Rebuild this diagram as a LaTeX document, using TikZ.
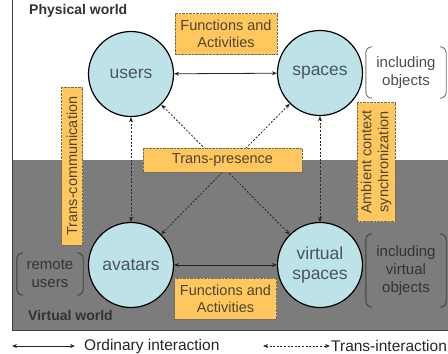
\documentclass[tikz,border=0pt]{standalone}
\usepackage{fontspec}
\setmainfont{Liberation Sans}
\usetikzlibrary{arrows.meta}
\definecolor{cyanfill}{HTML}{BDE3E8}
\definecolor{boxfill}{HTML}{FFC75E}
\definecolor{worldgray}{HTML}{7C7C7C}
\definecolor{inktext}{HTML}{4A5460}
\definecolor{boxtext}{HTML}{4E4630}
\tikzset{
  world/.style={circle, draw=black, line width=1.2pt, fill=cyanfill, minimum size=85pt, inner sep=0pt, font=\fontsize{17.5}{19.5}\selectfont, text=inktext, align=center},
  label box/.style={draw=boxtext!80, densely dotted, fill=boxfill, inner sep=0pt, font=\fontsize{14.5}{17}\selectfont, text=boxtext, align=center},
  ordinary/.style={{Stealth[length=5pt,width=4pt]}-{Stealth[length=5pt,width=4pt]}, line width=0.8pt, draw=black!85},
  trans/.style={ordinary, dash pattern=on 2pt off 1.6pt},
  aside/.style={font=\fontsize{15}{18}\selectfont, text=black!70, align=center, inner sep=0pt},
  paren/.style={draw=black!55, line width=0.9pt, rounded corners=6pt},
  world title/.style={font=\bfseries\fontsize{14}{16}\selectfont, text=black!80, inner sep=0pt},
  legend/.style={font=\fontsize{15.5}{18}\selectfont, text=black!85, inner sep=0pt},
}
\begin{document}
\begin{tikzpicture}[x=1pt, y=-1pt]
    \useasboundingbox (0,0) rectangle (448,354);
    % the two worlds
    \fill[worldgray] (12,160) rectangle (460,330);
    \draw[draw=black!75, line width=0.8pt] (12,-5) -- (12,330) -- (460,330);
    \node[world title, anchor=base west] (physical) at (29,14) {Physical world};
    \node[world title, anchor=base west] (virtual) at (28,320) {Virtual world};

    % actors and places
    \node[world] (users) at (131,74) {users};
    \node[world] (spaces) at (320,73) {spaces};
    \node[world] (avatars) at (131,265) {avatars};
    \node[world] (vspaces) at (320,265) {virtual\\spaces};

    % interactions
    \draw[ordinary] (users) -- (spaces);
    \draw[ordinary] (avatars) -- (vspaces);
    \draw[trans] (users) -- (avatars);
    \draw[trans] (spaces) -- (vspaces);
    \draw[trans] (users) -- (vspaces);
    \draw[trans] (spaces) -- (avatars);

    % labels on the interactions
    \node[label box, minimum width=102pt, minimum height=41pt] (funcTop) at (226,34) {Functions and\\Activities};
    \node[label box, minimum width=102pt, minimum height=41pt] (funcBot) at (225.5,298.5) {Functions and\\Activities};
    \node[label box, minimum width=159pt, minimum height=24pt] (transPres) at (222.5,160) {Trans-presence};
    \node[label box, rotate=90, minimum width=158pt, minimum height=21pt] (transComm) at (72,166) {Trans-communication};
    \node[label box, rotate=90, minimum width=119pt, minimum height=38pt] (ambient) at (376,162) {Ambient context\\synchronization};

    % side notes in brackets
    \node[aside, minimum width=80pt, minimum height=51pt] (inclObj) at (406,72.5) {including\\objects};
    \node[aside, text=black!80, minimum width=80pt, minimum height=73pt] (inclVirt) at (406,270.5) {including\\virtual\\objects};
    \node[aside, text=black!80, minimum width=66pt, minimum height=42pt] (remote) at (50,274) {remote\\users};
    \foreach \n/\c in {inclObj/55, inclVirt/75, remote/75} {
        \draw[paren, draw=black!\c] ([xshift=6pt]\n.north west) -- (\n.north west) -- (\n.south west) -- ([xshift=6pt]\n.south west);
        \draw[paren, draw=black!\c] ([xshift=-6pt]\n.north east) -- (\n.north east) -- (\n.south east) -- ([xshift=-6pt]\n.south east);
    }

    % legend
    \coordinate (ordA) at (12,346);
    \coordinate (ordB) at (75,346);
    \coordinate (trA) at (263,346);
    \coordinate (trB) at (330,346);
    \draw[ordinary] (ordA) -- (ordB);
    \node[legend, anchor=west] (ordText) at (84,346) {Ordinary interaction};
    \draw[trans] (trA) -- (trB);
    \node[legend, anchor=west] (trText) at (331,346) {Trans-interaction};
\end{tikzpicture}
\end{document}
